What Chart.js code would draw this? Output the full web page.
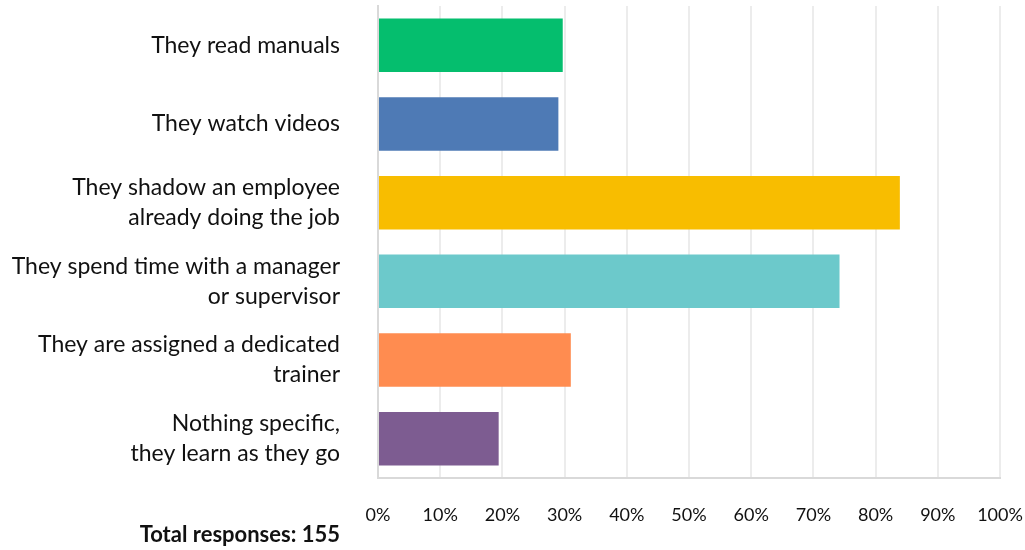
<!DOCTYPE html>
<html lang="en">
<head>
  <meta charset="UTF-8" />
  <title>Onboarding methods</title>
  <script src="https://cdn.jsdelivr.net/npm/chart.js"></script>
  <style>
    body { margin: 0; background: #fff; }
    #wrap { width: 1025px; height: 550px; }
  </style>
</head>
<body>
  <div id="wrap"><canvas id="chart"></canvas></div>
  <script>
    const categories = [
      ['They read manuals'],
      ['They watch videos'],
      ['They shadow an employee', 'already doing the job'],
      ['They spend time with a manager', 'or supervisor'],
      ['They are assigned a dedicated', 'trainer'],
      ['Nothing specific,', 'they learn as they go']
    ];
    const shares = [29.7, 29.0, 83.9, 74.2, 31.0, 19.4];
    const barColors = ['#05be6e', '#4e7ab5', '#f8bd00', '#6cc9cb', '#ff8c50', '#7d5c91'];
    const totalResponses = 155;

    const fontFamily = "Lato, 'Open Sans', sans-serif";

    // footer text, right-aligned with the category labels
    const totalLabel = {
      id: 'totalLabel',
      afterDraw(chart) {
        const ctx = chart.ctx;
        const y = chart.scales.y;
        ctx.save();
        ctx.font = "bold 22px " + fontFamily;
        ctx.fillStyle = '#111';
        ctx.textAlign = 'right';
        ctx.textBaseline = 'middle';
        ctx.fillText('Total responses: ' + totalResponses, y.right - 38, 535);
        ctx.restore();
      }
    };

    new Chart(document.getElementById('chart'), {
      type: 'bar',
      data: {
        labels: categories,
        datasets: [{
          data: shares,
          backgroundColor: barColors,
          barPercentage: 0.68,
          categoryPercentage: 1
        }]
      },
      options: {
        indexAxis: 'y',
        responsive: true,
        maintainAspectRatio: false,
        animation: false,
        layout: { padding: { top: 6, left: 0, right: 0, bottom: 0 } },
        plugins: {
          legend: { display: false },
          tooltip: { enabled: false }
        },
        scales: {
          x: {
            min: 0,
            max: 100,
            ticks: {
              stepSize: 10,
              padding: 26,
              color: '#111',
              font: { family: fontFamily, size: 18 },
              callback: v => v + '%'
            },
            grid: { color: '#ececec', lineWidth: 2, drawTicks: false },
            border: { color: '#d9d9d9', width: 2 },
            afterFit: s => { s.height = 72; s.paddingLeft = 0; s.paddingRight = 25; }
          },
          y: {
            ticks: {
              padding: 38,
              color: '#111',
              font: { family: fontFamily, size: 23, lineHeight: 1.3 }
            },
            grid: { display: false, drawTicks: false },
            border: { color: '#d9d9d9', width: 2 },
            afterFit: s => { s.width = 378; s.paddingTop = 0; s.paddingBottom = 0; }
          }
        }
      },
      plugins: [totalLabel]
    });
  </script>
</body>
</html>
